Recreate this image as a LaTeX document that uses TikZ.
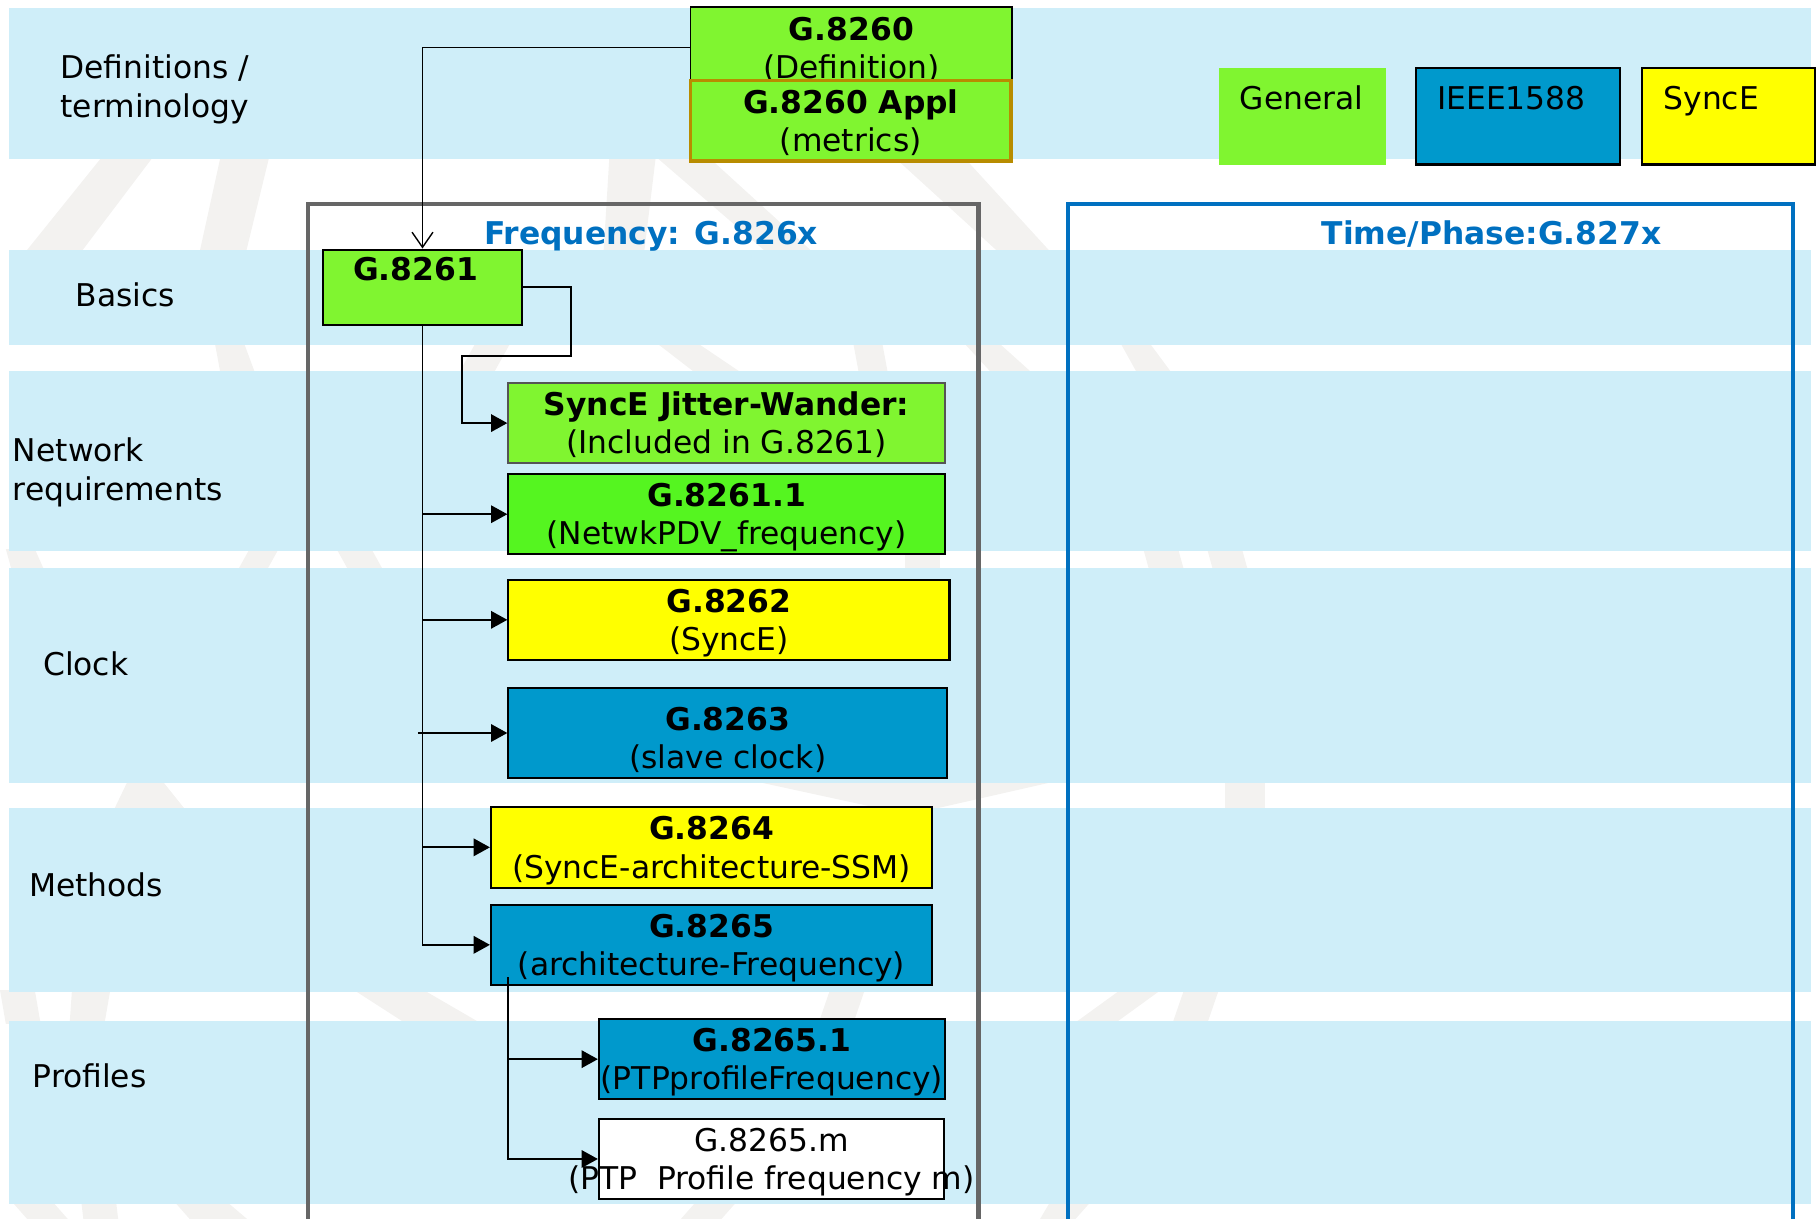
\documentclass[tikz,border=0pt]{standalone}
\usepackage{fontspec}
\setmainfont{DejaVu Sans}
\usetikzlibrary{arrows.meta}
\definecolor{bandc}{HTML}{CFEEF9}
\definecolor{wmc}{HTML}{F3F2F0}
\definecolor{gen}{HTML}{80F530}
\definecolor{gen2}{HTML}{55F520}
\definecolor{ieee}{HTML}{0099CC}
\definecolor{sy}{HTML}{FFFF00}
\definecolor{ttl}{HTML}{0070C0}
\definecolor{applc}{HTML}{B88C00}
\definecolor{frm}{HTML}{666666}
\definecolor{jwc}{HTML}{555555}
\newcommand\wmq[6]{\fill[wmark] (#3,#1) -- (#4,#1) -- (#6,#2) -- (#5,#2) -- cycle;}
\newcommand\lineA[1]{\rule{0pt}{28pt}\makebox[0pt]{#1}}
\newcommand\lineAA[1]{\rule{0pt}{36pt}\makebox[0pt]{#1}}
\newcommand\lineB[1]{\makebox[0pt]{#1}\rule[-8pt]{0pt}{8pt}}
\begin{document}
\begin{tikzpicture}[x={(1pt,0pt)}, y={(0pt,-1pt)},
  font=\fontsize{27}{33}\selectfont,
  band/.style={fill=bandc},
  wmark/.style={fill=wmc},
  doc/.style={draw=black, line width=1.8pt, inner sep=0pt, align=center},
  conn/.style={line width=1.6pt, -{Triangle[length=14pt,width=15pt]}},
  sidelbl/.style={anchor=west, align=left, inner sep=0pt},
  txt/.style={inner sep=0pt},
  legbox/.style={minimum height=83, inner sep=0pt}]
\useasboundingbox (0,0) rectangle (1568,1050);
% watermark (faint)
\wmq{135}{217}{88}{132}{22}{70}
\wmq{135}{217}{190}{232}{172}{212}
\wmq{135}{217}{525}{565}{520}{555}
\wmq{135}{217}{565}{610}{660}{700}
\wmq{135}{217}{770}{830}{860}{905}
\wmq{295}{322}{185}{210}{190}{220}
\wmq{295}{322}{410}{440}{395}{425}
\wmq{295}{322}{565}{600}{600}{640}
\wmq{295}{322}{735}{760}{740}{765}
\wmq{295}{322}{830}{860}{855}{890}
\wmq{295}{322}{965}{990}{980}{1010}
\wmq{473}{491}{5}{30}{10}{38}
\wmq{473}{491}{215}{240}{205}{230}
\wmq{473}{491}{290}{320}{300}{330}
\wmq{473}{491}{780}{810}{780}{810}
\wmq{473}{491}{985}{1015}{990}{1020}
\wmq{473}{491}{1040}{1070}{1045}{1075}
\wmq{673}{698}{110}{140}{98}{160}
\wmq{673}{698}{650}{910}{765}{800}
\wmq{673}{698}{1055}{1090}{1055}{1090}
\wmq{853}{882}{0}{30}{5}{35}
\wmq{853}{882}{62}{95}{60}{90}
\wmq{853}{882}{305}{365}{350}{415}
\wmq{853}{882}{715}{745}{705}{735}
\wmq{853}{882}{965}{1000}{925}{960}
\wmq{853}{882}{1020}{1050}{1010}{1040}
\wmq{1035}{1052}{10}{45}{25}{60}
\wmq{1035}{1052}{70}{100}{72}{102}
\wmq{1035}{1052}{150}{195}{165}{215}
\wmq{1035}{1052}{600}{635}{585}{620}
\wmq{1035}{1052}{905}{940}{895}{925}
% bands
\fill[band] (8,7) rectangle (1560,137);
\fill[band] (8,215) rectangle (1560,297);
\fill[band] (8,320) rectangle (1560,475);
\fill[band] (8,489) rectangle (1560,675);
\fill[band] (8,696) rectangle (1560,855);
\fill[band] (8,880) rectangle (1560,1037);
% frames
\draw[frm, line width=3.5pt] (265,1060) -- (265,176) -- (843,176) -- (843,1060);
\draw[ttl, line width=3.5pt] (920,1060) -- (920,176) -- (1545,176) -- (1545,1060);
\node[txt, anchor=base, text=ttl] (tfreq) at (561,211) {\textbf{Frequency: G.826x}};
\node[txt, anchor=base, text=ttl] (ttime) at (1285,211) {\textbf{Time/Phase:G.827x}};
% side labels
\node[sidelbl] (ldef) at (52,77) {Definitions /\\terminology};
\node[sidelbl] (lbas) at (65,254) {Basics};
\node[sidelbl] (lnet) at (11,407) {Network\\requirements};
\node[sidelbl] (lclk) at (37,572) {Clock};
\node[sidelbl] (lmet) at (25,762) {Methods};
\node[sidelbl] (lpro) at (28,927) {Profiles};
% legend
\node[legbox, fill=gen, minimum width=144] (lgen) at (1122,100.25) {};
\node[txt, anchor=base west] (tgen) at (1068,94) {General};
\node[legbox, draw=black, line width=1.8pt, fill=ieee, minimum width=176] (lieee) at (1308,100.25) {};
\node[txt, anchor=base west] (tieee) at (1238,94) {IEEE1588};
\node[legbox, draw=black, line width=1.8pt, fill=sy, minimum width=149] (lsync) at (1489.5,100.25) {};
\node[txt, anchor=base west] (tsync) at (1433,94) {SyncE};
% documents
\node[doc, line width=1.4pt, fill=gen, minimum width=277, minimum height=70] (g8260) at (733.5,41) {\lineA{\textbf{G.8260}}\\\lineB{(Definition)}};
\node[doc, draw=applc, line width=3pt, fill=gen, minimum width=276, minimum height=66] (appl) at (733,104) {\lineA{\textbf{G.8260 Appl}}\\\lineB{(metrics)}};
\node[doc, fill=gen, minimum width=172, minimum height=65] (g8261) at (364,247.5) {};
\node[txt, anchor=base] (t8261) at (358,242) {\textbf{G.8261}};
\node[doc, draw=jwc, fill=gen, minimum width=376, minimum height=65] (jw) at (626,364.5) {\lineA{\textbf{SyncE Jitter-Wander:}}\\\lineB{(Included in G.8261)}};
\node[doc, fill=gen2, minimum width=376, minimum height=66] (g82611) at (626,443) {\lineA{\textbf{G.8261.1}}\\\lineB{(NetwkPDV\_frequency)}};
\node[doc, fill=sy, minimum width=380, minimum height=66] (g8262) at (628,534) {\lineA{\textbf{G.8262}}\\\lineB{(SyncE)}};
\node[doc, fill=ieee, minimum width=378, minimum height=77] (g8263) at (627,631.5) {\lineAA{\textbf{G.8263}}\\\lineB{(slave clock)}};
\node[doc, fill=sy, minimum width=380, minimum height=70] (g8264) at (613,730) {\lineA{\textbf{G.8264}}\\\lineB{(SyncE-architecture-SSM)}};
\node[doc, fill=ieee, minimum width=380, minimum height=66] (g8265) at (613,814) {\lineA{\textbf{G.8265}}\\\lineB{(architecture-Frequency)}};
\node[doc, fill=ieee, minimum width=298, minimum height=65] (g82651) at (665,912.5) {\lineA{\textbf{G.8265.1}}\\\lineB{(PTPprofileFrequency)}};
\node[doc, fill=white, minimum width=297, minimum height=65] (g8265m) at (664.5,998.5) {\lineA{G.8265.m}\\\lineB{(PTP\ \ Profile frequency m)}};
% connectors
\draw[line width=1.2pt, -{Straight Barb[length=13pt,width=18pt,line width=1.2pt]}] (g8260.west) -| (g8261.north);
\draw[conn] (g8261.east) -- ++(41,0) |- (398,307) |- (jw.west);
\draw[conn] (g8261.south) |- (g8265.west);
\draw[conn] (g8261.south |- g82611.west) -- (g82611.west);
\draw[conn] (g8261.south |- g8262.west) -- (g8262.west);
\draw[conn] ([xshift=-4pt]g8261.south |- g8263.west) -- (g8263.west);
\draw[conn] (g8261.south |- g8264.west) -- (g8264.west);
\coordinate (sub) at (438,842);
\draw[conn] (sub) |- (g8265m.west);
\draw[conn] (sub |- g82651.west) -- (g82651.west);
\end{tikzpicture}
\end{document}
